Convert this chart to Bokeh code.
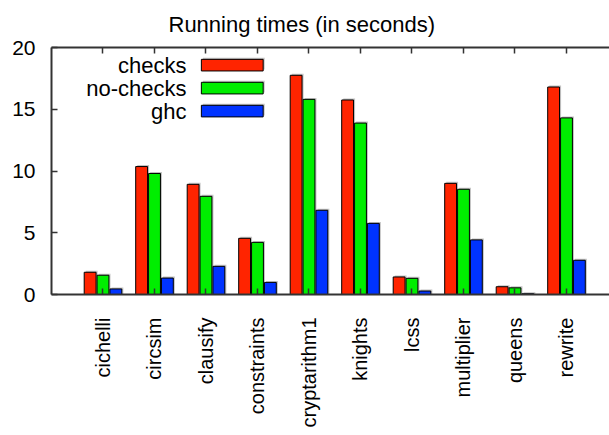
import numpy as np
from bokeh.plotting import figure
from bokeh.models import (ColumnDataSource, Range1d, LinearAxis, FixedTicker,
                          Label, BoxAnnotation)
from bokeh.transform import dodge
from bokeh.embed import file_html
from bokeh.resources import INLINE

# ---- data -------------------------------------------------------------
categories = ["cichelli", "circsim", "clausify", "constraints", "cryptarithm1",
              "knights", "lcss", "multiplier", "queens", "rewrite"]
checks = [1.80, 10.36, 8.92, 4.55, 17.75, 15.75, 1.42, 9.00, 0.63, 16.80]
no_checks = [1.56, 9.80, 7.95, 4.22, 15.80, 13.88, 1.31, 8.52, 0.54, 14.30]
ghc = [0.45, 1.33, 2.28, 0.98, 6.82, 5.76, 0.28, 4.42, 0.06, 2.77]
series_names = ["checks", "no-checks", "ghc"]
y_ticks = [0, 5, 10, 15, 20]
title_text = "Running times (in seconds)"

# ---- styles -------------------------------------------------------------
FONT = "Liberation Sans"
colors = ["#ff2400", "#00ee00", "#0033ff"]
offsets = [-0.25, 0.0, 0.25]
BAR_W = 0.23
AXIS_COLOR = "#333333"

xpos = list(range(1, len(categories) + 1))
series = [checks, no_checks, ghc]

p = figure(width=609, height=435, x_range=Range1d(0, 10.835), y_range=Range1d(0, 20),
           output_backend="svg", toolbar_location=None,
           min_border_left=51, min_border_right=0, min_border_top=47,
           min_border_bottom=141)
p.outline_line_color = None
p.xgrid.visible = False
p.ygrid.visible = False

p.title.text = title_text
p.title.text_font = FONT
p.title.text_font_size = "22px"
p.title.text_font_style = "normal"
p.title.align = "left"
p.title.offset = 117
p.title.standoff = 18
p.title.vertical_align = "top"
p.title.text_color = "black"

for vals, off, col in zip(series, offsets, colors):
    src = ColumnDataSource(dict(x=xpos, top=vals,
                                top_s=[v + 0.12 for v in vals]))
    p.vbar(x=dodge("x", off + 0.03), top="top_s", bottom=0, source=src,
           width=BAR_W, fill_color="#aaaaaa", fill_alpha=0.7, line_color=None)
    p.vbar(x=dodge("x", off), top="top", bottom=0, width=BAR_W, source=src,
           fill_color=col, line_color="black", line_width=1)


def style_axis(ax, size):
    ax.axis_line_color = AXIS_COLOR
    ax.axis_line_width = 2
    ax.major_tick_line_color = AXIS_COLOR
    ax.major_tick_line_width = 1.5
    ax.major_tick_in = 6
    ax.major_tick_out = 0
    ax.minor_tick_line_color = None
    ax.major_label_text_font = FONT
    ax.major_label_text_font_size = size
    ax.major_label_text_color = "black"


xa = p.xaxis[0]
xa.ticker = FixedTicker(ticks=xpos)
xa.major_label_overrides = {i: c for i, c in zip(xpos, categories)}
xa.major_label_orientation = np.pi / 2
style_axis(xa, "20px")
xa.major_label_standoff = 23

ya = p.yaxis[0]
ya.ticker = FixedTicker(ticks=y_ticks)
style_axis(ya, "21px")
ya.major_label_standoff = 16

top_ax = LinearAxis(ticker=FixedTicker(ticks=xpos))
style_axis(top_ax, "10px")
top_ax.major_label_standoff = 0
top_ax.major_label_overrides = {i: "" for i in xpos}
p.add_layout(top_ax, "above")

# ---- legend (text right-aligned, swatch to the right) -------------------
leg_y = [18.57, 16.71, 14.85]
for name, col, yy in zip(series_names, colors, leg_y):
    p.add_layout(Label(x=2.62, y=yy, text=name, text_align="right",
                       text_baseline="middle", text_font=FONT,
                       text_font_size="22px", text_color="black"))
    p.add_layout(BoxAnnotation(left=2.94, right=4.14, bottom=yy - 0.47 + 0.12,
                               top=yy + 0.47 + 0.12, fill_color="#aaaaaa",
                               fill_alpha=0.7, line_color=None))
    p.add_layout(BoxAnnotation(left=2.91, right=4.11, bottom=yy - 0.47,
                               top=yy + 0.47, fill_color=col, fill_alpha=1.0,
                               line_color="black", line_width=1, line_alpha=1.0))

open("out.html", "w").write(file_html(p, INLINE))
